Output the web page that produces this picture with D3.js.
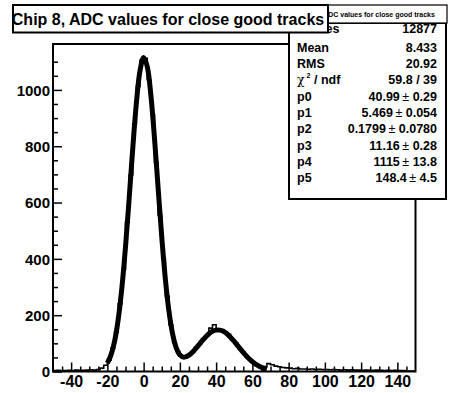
<!DOCTYPE html>
<html><head><meta charset="utf-8">
<script src="https://cdn.jsdelivr.net/npm/d3@7"></script>
<style>
body{margin:0;background:#fff}
svg{display:block}
text{font-family:"Liberation Sans",Arial,Helvetica,sans-serif;font-weight:bold;fill:#000}
</style>
</head><body>
<svg id="chart" width="451" height="393"></svg>
<script>
// ---------------- data ----------------
const titleText = "Chip 8, ADC values for close good tracks";
const histName = "ADC values for close good tracks";

// histogram bins (width 2, centers) and counts
const binCenters = [-49,-47,-45,-43,-41,-39,-37,-35,-33,-31,-29,-27,-25,-23,-21,-19,-17,-15,-13,-11,
  -9,-7,-5,-3,-1,1,3,5,7,9,11,13,15,17,19,21,23,25,27,29,31,33,35,37,39,41,43,45,47,49,
  51,53,55,57,59,61,63,65,67,69,71,73,75,77,79,81,83,85,87,89,91,93,95,97,99,101,103,105,107,109,
  111,113,115,117,119,121,123,125,127,129,131,133,135,137,139,141,143,145,147,149];
const binCounts = [3,4,2,3,4,3,5,4,4,5,6,5,7,12,22,40,83,140,240,362,
  530,698,880,1012,1105,1112,1036,912,742,556,401,268,166,103,71,55,49,60,68,86,
  98,117,126,154,166,146,143,137,132,112,101,81,69,52,41,30,22,16,18,28,
  24,19,17,14,13,12,10,11,9,9,8,9,7,8,7,7,6,7,6,5,
  6,5,6,5,5,4,5,4,4,5,4,3,4,3,4,3,3,2,2,2];

// fit curve
const fitX = [-20,-18,-16,-14,-12,-10,-8,-6,-4,-2,0,2,4,6,8,10,12,14,16,18,20,22,24,26,28,30,
  32,34,36,38,40,42,44,46,48,50,52,54,56,58,60,62,64,66,68];
const fitY = [30,59,108,186,297,442,613,792,953,1068,1115,1083,981,828,651,478,328,213,133,84,59,51,54,63,76,91,
  107,121,134,143,147,147,143,134,121,107,91,75,60,46,35,25,18,12,8];

const xDomain = [-50, 150];
const yDomain = [0, 1163];
const xMajorTicks = [-40,-20,0,20,40,60,80,100,120,140];
const xMinorTicks = [-45,-35,-30,-25,-15,-10,-5,5,10,15,25,30,35,45,50,55,65,70,75,85,90,95,105,110,115,125,130,135,145];
const yMajorTicks = [0,200,400,600,800,1000];
const yMinorTicks = [50,100,150,250,300,350,450,500,550,650,700,750,850,900,950,1050,1100];

const statLabels = ["Entries","Mean","RMS","chi2","p0","p1","p2","p3","p4","p5"];
const statValues = ["12877","8.433","20.92","59.8 / 39","40.99","5.469","0.1799","11.16","1115","148.4"];
const statErrors = [null,null,null,null,"0.29","0.054","0.0780","0.28","13.8","4.5"];

// ---------------- drawing ----------------
const svg = d3.select("#chart");
const L = 53, R = 415.5, T = 44, B = 371.5;
const x = d3.scaleLinear().domain(xDomain).range([L, R]);
const y = d3.scaleLinear().domain(yDomain).range([B, T]);

svg.append("clipPath").attr("id","clip").append("rect")
  .attr("x",L).attr("y",T).attr("width",R-L).attr("height",B-T);

// histogram outline
const half = 1;
const stepPts = binCenters.map((c,i)=>[c-half, binCounts[i]]);
stepPts.push([binCenters[binCenters.length-1]+half, binCounts[binCounts.length-1]]);
svg.append("path")
  .attr("clip-path","url(#clip)")
  .attr("d", d3.line().x(d=>x(d[0])).y(d=>y(d[1])).curve(d3.curveStepAfter)(stepPts))
  .attr("fill","none").attr("stroke","#000").attr("stroke-width",1.6);

// fit curve
svg.append("path")
  .attr("clip-path","url(#clip)")
  .attr("d", d3.line().x((d,i)=>x(fitX[i])).y(d=>y(d)).curve(d3.curveCatmullRom)(fitY))
  .attr("fill","none").attr("stroke","#000").attr("stroke-width",5)
  .attr("stroke-linejoin","round");

// frame
svg.append("rect").attr("x",L).attr("y",T).attr("width",R-L).attr("height",B-T)
  .attr("fill","none").attr("stroke","#000").attr("stroke-width",2);

// x axis ticks
const xa = svg.append("g").attr("transform",`translate(0,${B})`)
  .call(d3.axisBottom(x).tickValues(xMajorTicks).tickSize(-9).tickPadding(4.5).tickFormat(d3.format("d")));
xa.select(".domain").remove();
xa.selectAll("line").attr("stroke-width",1.5);
xa.selectAll("text").attr("font-size",16).attr("font-family","Liberation Sans, Arial, sans-serif")
  .attr("font-weight","bold").text(d=>String(d));
const xm = svg.append("g").attr("transform",`translate(0,${B})`)
  .call(d3.axisBottom(x).tickValues(xMinorTicks).tickSize(-5).tickFormat(""));
xm.select(".domain").remove();
xm.selectAll("line").attr("stroke-width",1.5);

// y axis ticks
const ya = svg.append("g").attr("transform",`translate(${L},0)`)
  .call(d3.axisLeft(y).tickValues(yMajorTicks).tickSize(-9).tickPadding(3).tickFormat(d3.format("d")));
ya.select(".domain").remove();
ya.selectAll("line").attr("stroke-width",1.5);
ya.selectAll("text").attr("font-size",15).attr("font-family","Liberation Sans, Arial, sans-serif")
  .attr("font-weight","bold").attr("dy","0.36em");
const ym = svg.append("g").attr("transform",`translate(${L},0)`)
  .call(d3.axisLeft(y).tickValues(yMinorTicks).tickSize(-5).tickFormat(""));
ym.select(".domain").remove();
ym.selectAll("line").attr("stroke-width",1.5);

// stats box
const sb = svg.append("g");
sb.append("rect").attr("x",289).attr("y",23).attr("width",157).attr("height",176)
  .attr("fill","#fff").attr("stroke","#000").attr("stroke-width",2);
sb.append("rect").attr("x",312).attr("y",5).attr("width",135).attr("height",18)
  .attr("fill","#fff").attr("stroke","#000").attr("stroke-width",1.2);
sb.append("text").attr("x",379).attr("y",16.5).attr("text-anchor","middle")
  .attr("font-size",7).attr("font-weight","normal").text(histName);

const rowY = i => i === 0 ? 33 : 35.4 + i*16.3;
statLabels.forEach((lab,i)=>{
  const t = sb.append("text").attr("x",297).attr("y",rowY(i)).attr("font-size",12.5);
  if (lab === "chi2") {
    t.append("tspan").attr("font-family","DejaVu Serif, serif").attr("font-weight","normal").text("χ");
    t.append("tspan").attr("font-size",7).attr("dy",-6).attr("dx",2).text("2");
    t.append("tspan").attr("dy",6).text(" / ndf");
  } else t.text(lab);
  const v = sb.append("text").attr("x",437).attr("y",rowY(i)).attr("font-size",12.5).attr("text-anchor","end");
  v.append("tspan").text(statValues[i]);
  if (statErrors[i] !== null) {
    v.append("tspan").attr("font-weight","normal").text("\u2009± ");
    v.append("tspan").text(statErrors[i]);
  }
});

// title box (on top)
svg.append("rect").attr("x",13).attr("y",5).attr("width",315).attr("height",27.5)
  .attr("fill","#fff").attr("stroke","#000").attr("stroke-width",2);
svg.append("text").attr("x",168).attr("y",25).attr("text-anchor","middle")
  .attr("font-size",16).text(titleText);
</script>
</body></html>
